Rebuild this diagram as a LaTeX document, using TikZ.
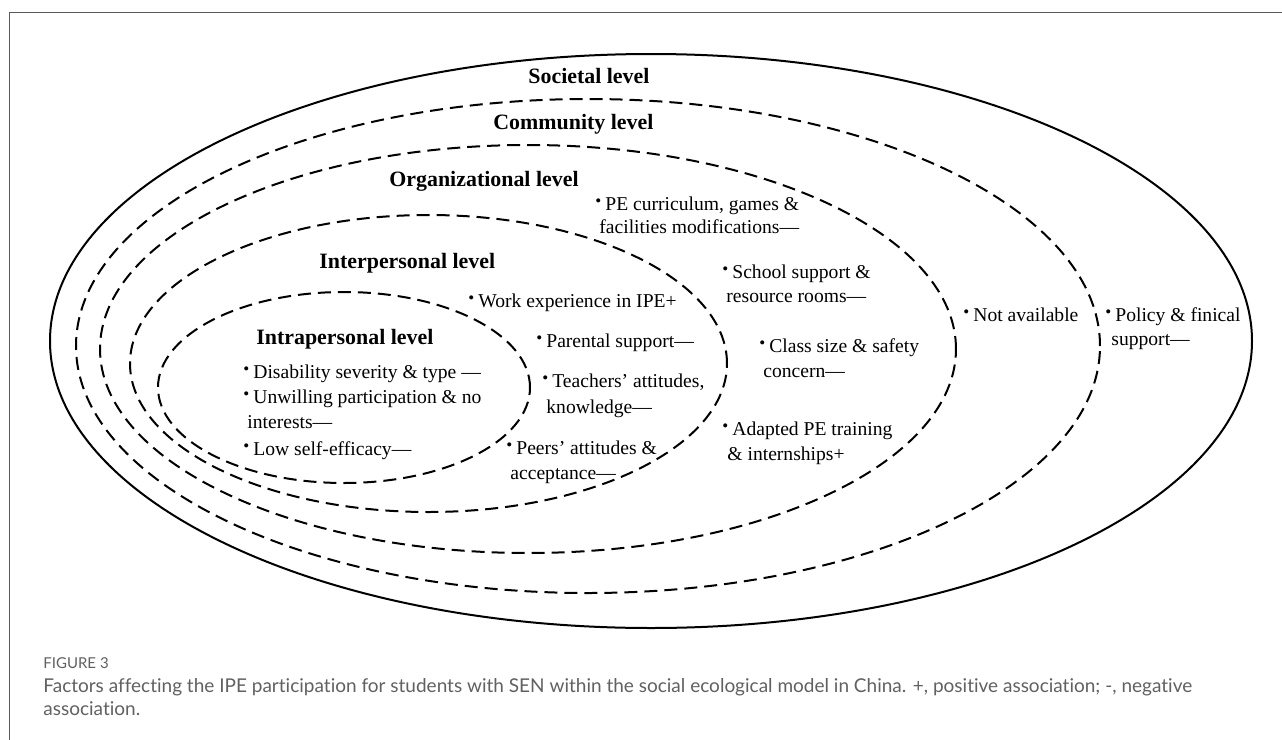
\documentclass[tikz,border=0pt]{standalone}
\usepackage{fontspec}
\setmainfont{Liberation Serif}
\newfontfamily\capfont[Ligatures=NoCommon]{Lato}
\newcommand\bul{\raisebox{1.7pt}{\fontsize{8.5pt}{9pt}\selectfont •}\hspace{2pt}}
\tikzset{
  body/.style={anchor=base west, inner sep=0pt, font=\fontsize{9.8pt}{12pt}\selectfont},
  head/.style={anchor=base west, inner sep=0pt, font=\bfseries\fontsize{10.95pt}{13pt}\selectfont},
  ring/.style={line width=1pt},
  dashring/.style={ring, dash pattern=on 6.5pt off 3.5pt},
  captext/.style={anchor=base west, inner sep=0pt, text=black!62, font=\capfont\fontsize{9.5pt}{11pt}\selectfont},
  capfig/.style={anchor=base west, inner sep=0pt, text=black!62, font=\capfont\fontsize{7.5pt}{9pt}\selectfont}
}
\begin{document}
\begin{tikzpicture}[x=0.5pt,y=-0.5pt]
\useasboundingbox (0,0) rectangle (1282,740);
\fill[white] (0,0) rectangle (1282,740);
% frame
\draw[black!65, line width=0.6pt] (1282,12.5) -- (9.3,12.5) -- (9.3,740);
% rings
\draw[ring] (651,341) ellipse [x radius=300.5pt, y radius=143.5pt];
\draw[dashring] (588,346) ellipse [x radius=256pt, y radius=123.5pt];
\draw[dashring] (528,349) ellipse [x radius=214pt, y radius=102pt];
\draw[dashring] (428.5,363.5) ellipse [x radius=149.25pt, y radius=74.25pt];
\draw[dashring] (344,387.5) ellipse [x radius=93pt, y radius=47.75pt];
% headings
\node[head] (hsoc) at (528,83) {Societal level};
\node[head] (hcom) at (493,129) {Community level};
\node[head] (horg) at (389,186) {Organizational level};
\node[head] (hint) at (319,268) {Interpersonal level};
\node[head] (hintra) at (256,344) {Intrapersonal level};
% intrapersonal
\node[body] (d1) at (243,378) {\bul Disability severity \& type —};
\node[body] (d2) at (243,403) {\bul Unwilling participation \& no};
\node[body] (d2b) at (247,428) {interests—};
\node[body] (d3) at (243,455) {\bul Low self-efficacy—};
% interpersonal
\node[body] (p1) at (468,307) {\bul Work experience in IPE+};
\node[body] (p2) at (536,347) {\bul Parental support—};
\node[body] (p3) at (542,387) {\bul Teachers’ attitudes,};
\node[body] (p3b) at (546,413) {knowledge—};
\node[body] (p4) at (506,454) {\bul Peers’ attitudes \&};
\node[body] (p4b) at (510,479) {acceptance—};
% organizational
\node[body] (o1) at (595,210) {\bul PE curriculum, games \&};
\node[body] (o1b) at (599,233) {facilities modifications—};
\node[body] (o2) at (722,278) {\bul School support \&};
\node[body] (o2b) at (726,302) {resource rooms—};
\node[body] (o3) at (759,352) {\bul Class size \& safety};
\node[body] (o3b) at (763,377) {concern—};
\node[body] (o4) at (722,435) {\bul Adapted PE training};
\node[body] (o4b) at (727,460) {\& internships+};
% community
\node[body] (c1) at (963,321) {\bul Not available};
% societal
\node[body] (s1) at (1105,321) {\bul Policy \& finical};
\node[body] (s1b) at (1111,345) {support—};
% caption
\node[capfig] (fig) at (43,668) {FIGURE 3};
\node[captext] (cap1) at (43,692) {Factors affecting the IPE participation for students with SEN within the social ecological model in China. +, positive association; -, negative};
\node[captext] (cap2) at (43,715) {association.};
\end{tikzpicture}
\end{document}
